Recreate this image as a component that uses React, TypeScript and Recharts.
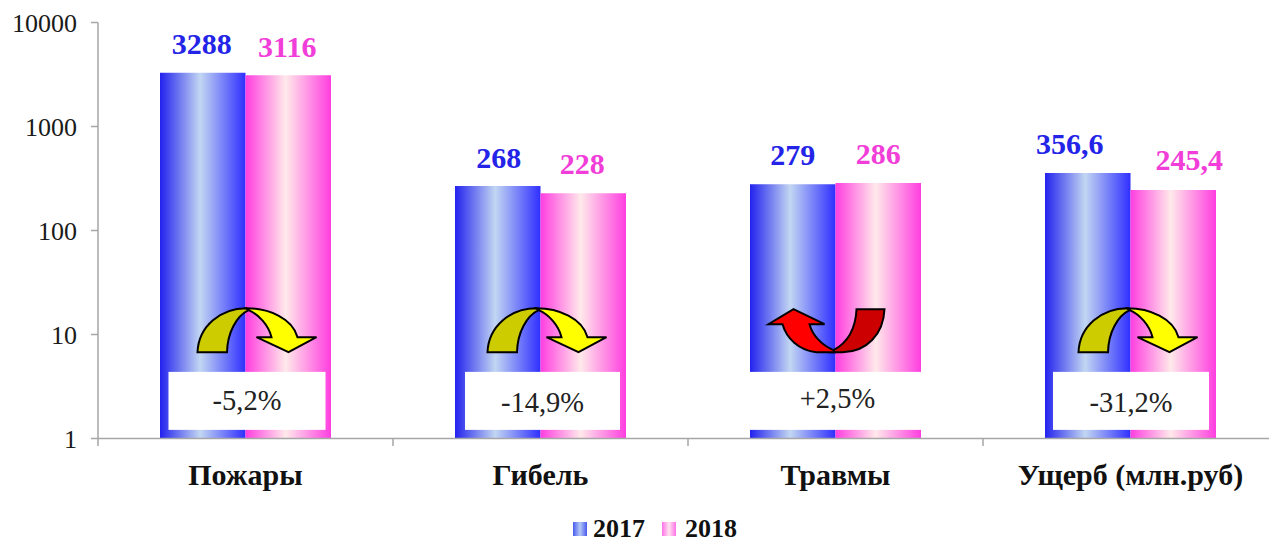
import React from 'react';
import { BarChart, Bar, XAxis, YAxis, LabelList, Legend, ReferenceDot } from 'recharts';

const categories = ['Пожары', 'Гибель', 'Травмы', 'Ущерб (млн.руб)'];
const values2017 = [3288, 268, 279, 356.6];
const values2018 = [3116, 228, 286, 245.4];
const changes = ['-5,2%', '-14,9%', '+2,5%', '-31,2%'];
const trends = ['down', 'down', 'up', 'down'];
const yTicks = [1, 10, 100, 1000, 10000];
const seriesNames = ['2017', '2018'];

const SERIF = '"Liberation Serif", serif';
const BLUE = '#2424e8';
const PINK = '#f23ed8';

// small nudges so the overlays and labels sit where they do in the original slide
const arrowShift = [1, -4, 1, -3];
const boxes = [
  { dx: 1.5, w: 157, textDx: 0, textDy: 0 },
  { dx: 2, w: 155, textDx: 0, textDy: 2 },
  { dx: 0, w: 174, textDx: 2, textDy: -2 },
  { dx: 0.5, w: 156, textDx: 0, textDy: 2 },
];
const labelShift2017 = [{ dx: -1, dy: 0 }, { dx: 1, dy: 1 }, { dx: 0, dy: 0 }, { dx: -18, dy: 0 }];
const labelShift2018 = [{ dx: -1, dy: 1 }, { dx: -1, dy: 0 }, { dx: 0, dy: 0 }, { dx: 16, dy: -1 }];

const chartData = categories.map((name, i) => ({
  name,
  y2017: values2017[i],
  y2018: values2018[i],
}));

const Arrow = ({ cx, cy, kind, shift }: any) => {
  const stroke = { stroke: '#000', strokeWidth: 2, strokeLinejoin: 'miter' as const };
  if (kind === 'up') {
    return (
      <g transform={`translate(${cx + shift},${cy})`}>
        <path d="M20 -21 L48 -21 C47 4 30 22 6 22 L-8 22 L-3 20 C8 14 19 2 20 -21 Z" fill="#cc0000" {...stroke} />
        <path d="M-43 -21 L-12 -6 L-27 -6 C-24 5 -15 15 -3 20 L-2 22 L-20 22 C-38 20 -50 8 -54 -6 L-68 -6 Z" fill="#ff0000" {...stroke} />
      </g>
    );
  }
  return (
    <g transform={`translate(${cx + shift},${cy})`}>
      <path d="M-49 22 C-48 -4 -26 -22 0 -22 L2 -20 C-10 -14 -19 2 -19.5 22 Z" fill="#cccc00" {...stroke} />
      <path d="M0 -22 C22 -22 46 -12 51 7 L70 7 L42 22 L10 7 L25 7 C22 -5 12 -16 2 -20 Z" fill="#ffff00" {...stroke} />
    </g>
  );
};

const ChangeBox = ({ cx, cy, text, box }: any) => (
  <g>
    <rect x={cx + box.dx - box.w / 2} y={cy - 29} width={box.w} height={58} fill="#fff" />
    <text
      x={cx + box.dx + box.textDx}
      y={cy + box.textDy + 9}
      textAnchor="middle"
      fontFamily={SERIF}
      fontSize={28.5}
      fill="#222"
    >
      {text}
    </text>
  </g>
);

const barLabel = (color: string, shifts: { dx: number; dy: number }[], source: number[]) => (props: any) => {
  const { x, y, width, index } = props;
  const raw = source[index];
  const text = String(raw).replace('.', ',');
  return (
    <text
      x={x + width / 2 + shifts[index].dx}
      y={y - 19 + shifts[index].dy}
      textAnchor="middle"
      fontFamily={SERIF}
      fontWeight="bold"
      fontSize={30}
      fill={color}
    >
      {text}
    </text>
  );
};

const CategoryTick = ({ x, y, payload }: any) => (
  <g>
    <line x1={x - 147.5} x2={x - 147.5} y1={438.5} y2={446} stroke="#a6a6a6" strokeWidth={1.5} />
    <text x={x} y={y + 38} textAnchor="middle" fontFamily={SERIF} fontWeight="bold" fontSize={30} fill="#111">
      {payload.value}
    </text>
  </g>
);

const LegendRow = () => (
  <div
    style={{
      display: 'flex',
      alignItems: 'center',
      paddingLeft: 573,
      fontFamily: SERIF,
      fontWeight: 'bold',
      fontSize: 26,
      color: '#111',
      lineHeight: '24px',
    }}
  >
    {seriesNames.map((name, i) => (
      <span key={name} style={{ display: 'flex', alignItems: 'center', marginRight: 17 }}>
        <span
          style={{
            width: 14,
            height: 14,
            marginRight: i === 0 ? 6 : 9,
            background:
              i === 0
                ? 'linear-gradient(90deg,#4a5af0,#b4c8f4 50%,#4a5af0)'
                : 'linear-gradient(90deg,#ff70e8,#ffe4ee 50%,#ff70e8)',
          }}
        />
        {name}
      </span>
    ))}
  </div>
);

export default function App() {
  return (
    <div style={{ position: 'absolute', left: 0, top: 0, width: 1269, height: 542, overflow: 'hidden', background: '#fff' }}>
      <BarChart
        width={1278}
        height={542}
        data={chartData}
        margin={{ top: 22.5, right: 0, left: 0, bottom: 0 }}
        barSize={85.5}
        barGap={0}
      >
        <defs>
          <linearGradient id="grad2017" x1="0" y1="0" x2="1" y2="0">
            <stop offset="0%" stopColor="#2222ee" />
            <stop offset="47%" stopColor="#c2d6f2" />
            <stop offset="100%" stopColor="#2f2fff" />
          </linearGradient>
          <linearGradient id="grad2018" x1="0" y1="0" x2="1" y2="0">
            <stop offset="0%" stopColor="#ff3ee0" />
            <stop offset="47%" stopColor="#ffe9ea" />
            <stop offset="100%" stopColor="#ff3ee0" />
          </linearGradient>
        </defs>
        <XAxis
          dataKey="name"
          height={63.5}
          interval={0}
          tickLine={false}
          axisLine={{ stroke: '#a6a6a6', strokeWidth: 1.5 }}
          tick={<CategoryTick />}
        />
        <YAxis
          scale="log"
          domain={[1, 10000]}
          ticks={yTicks}
          interval={0}
          width={98}
          tickSize={7}
          tickMargin={14}
          allowDataOverflow
          axisLine={{ stroke: '#a6a6a6', strokeWidth: 1.5 }}
          tickLine={{ stroke: '#a6a6a6', strokeWidth: 1.5 }}
          tick={{ fontFamily: SERIF, fontSize: 26, fill: '#1a1a1a' }}
        />
        <Legend verticalAlign="bottom" height={40} content={<LegendRow />} wrapperStyle={{ left: 0, top: 517, width: 1269 }} />
        <Bar dataKey="y2017" name="2017" fill="url(#grad2017)" isAnimationActive={false}>
          <LabelList content={barLabel(BLUE, labelShift2017, values2017)} />
        </Bar>
        <Bar dataKey="y2018" name="2018" fill="url(#grad2018)" isAnimationActive={false}>
          <LabelList content={barLabel(PINK, labelShift2018, values2018)} />
        </Bar>
        {categories.map((name, i) => (
          <ReferenceDot
            key={`box-${name}`}
            x={name}
            y={2.3}
            shape={(p: any) => <ChangeBox cx={p.cx} cy={p.cy} text={changes[i]} box={boxes[i]} />}
          />
        ))}
        {categories.map((name, i) => (
          <ReferenceDot
            key={`arrow-${name}`}
            x={name}
            y={11}
            shape={(p: any) => <Arrow cx={p.cx} cy={p.cy} kind={trends[i]} shift={arrowShift[i]} />}
          />
        ))}
      </BarChart>
    </div>
  );
}
